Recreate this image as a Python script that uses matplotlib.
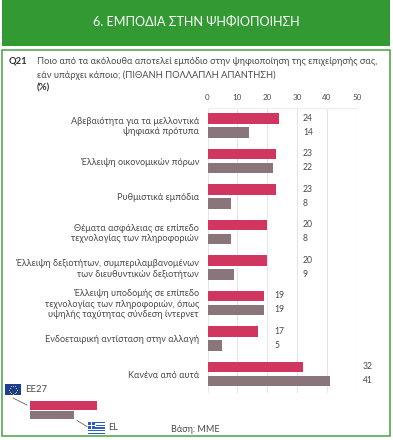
import numpy as np
import matplotlib
matplotlib.use("Agg")
import matplotlib.pyplot as plt
from matplotlib.patches import Rectangle

plt.rcParams['font.family'] = ['Lato', 'DejaVu Sans']

categories = [
    "Αβεβαιότητα για τα μελλοντικά\nψηφιακά πρότυπα",
    "Έλλειψη οικονομικών πόρων",
    "Ρυθμιστικά εμπόδια",
    "Θέματα ασφάλειας σε επίπεδο\nτεχνολογίας των πληροφοριών",
    "Έλλειψη δεξιοτήτων, συμπεριλαμβανομένων\nτων διευθυντικών δεξιοτήτων",
    "Έλλειψη υποδομής σε επίπεδο\nτεχνολογίας των πληροφοριών, όπως\nυψηλής ταχύτητας σύνδεση ίντερνετ",
    "Ενδοεταιρική αντίσταση στην αλλαγή",
    "Κανένα από αυτά",
]
ee27 = [24, 23, 23, 20, 20, 19, 17, 32]
el = [14, 22, 8, 8, 9, 19, 5, 41]
ticks = [0, 10, 20, 30, 40, 50]

W, H = 393, 440
RED = "#d0365f"
GREY = "#8a767a"
TEXT = "#4a4a4a"


def main():
    fig = plt.figure(figsize=(W / 100, H / 100), dpi=100)

    # page layer in pixels, y pointing down
    bg = fig.add_axes([0, 0, 1, 1])
    bg.set_xlim(0, W)
    bg.set_ylim(H, 0)
    bg.axis("off")

    bg.add_patch(Rectangle((2, 0), 388, 46, color="#339933", lw=0))
    bg.text(196, 22, "6. ΕΜΠΟΔΙΑ ΣΤΗΝ ΨΗΦΙΟΠΟΙΗΣΗ", color="white", fontsize=9.1,
            ha="center", va="center")
    bg.add_patch(Rectangle((1.5, 50.5), 388, 385.5, fill=False, ec="#55a855", lw=1.2))

    bg.text(9, 61, "Q21", color="#333333", fontsize=6.8, fontweight="bold", va="center")
    bg.text(37, 61, "Ποιο από τα ακόλουθα αποτελεί εμπόδιο στην ψηφιοποίηση της επιχείρησής σας,",
            color=TEXT, fontsize=6.7, va="center")
    bg.text(37, 75, "εάν υπάρχει κάποιο; (ΠΙΘΑΝΗ ΠΟΛΛΑΠΛΗ ΑΠΑΝΤΗΣΗ)",
            color=TEXT, fontsize=6.7, va="center")
    bg.text(37, 88, "(%)", color="#333333", fontsize=7, fontweight="bold", va="center")

    # bars
    x0, x1, top, bottom = 207.5, 356.7, 108, 393
    ax = fig.add_axes([x0 / W, 1 - bottom / H, (x1 - x0) / W, (bottom - top) / H])
    ax.patch.set_alpha(0)
    pos = np.arange(len(categories))
    ax.barh(pos - 0.197, ee27, height=0.296, color=RED, zorder=3)
    ax.barh(pos + 0.197, el, height=0.296, color=GREY, zorder=3)
    ax.set_xlim(0, 50)
    ax.set_ylim(7.54, -0.487)
    ax.set_xticks(ticks)
    ax.xaxis.tick_top()
    ax.tick_params(axis="x", length=0, pad=5, labelsize=5.8, labelcolor=TEXT)
    ax.set_yticks([])
    ax.grid(axis="x", color="#e6e6e6", lw=0.8, zorder=0)
    for s in ax.spines.values():
        s.set_visible(False)
    ax.spines["top"].set_visible(True)
    ax.spines["top"].set_color("#eeeeee")

    # category labels
    for i, cat in enumerate(categories):
        ax.annotate(cat, (0, i), xytext=(-8.5, -1.5), textcoords="offset pixels",
                    ha="right", va="center", fontsize=6.6, color=TEXT, linespacing=1.2,
                    annotation_clip=False)

    # value labels sit in a column per group
    columns = [32, 32, 32, 32, 32, 22.5, 22.5, 52]
    for i, col in enumerate(columns):
        ax.text(col, i - 0.2, str(ee27[i]), fontsize=6.2, color=TEXT, va="center")
        ax.text(col, i + 0.2, str(el[i]), fontsize=6.2, color=TEXT, va="center", clip_on=False)

    # legend
    bg.add_patch(Rectangle((30, 401), 66.5, 9.5, color=RED, lw=0))
    bg.add_patch(Rectangle((30, 411.5), 44, 8, color=GREY, lw=0))
    bg.plot([13, 27], [398, 405], color="#666666", lw=0.6)
    bg.plot([77, 87], [420.5, 426.5], color="#666666", lw=0.6)

    # EU flag
    bg.add_patch(Rectangle((5, 384), 16, 11.5, color="#1c3f94", lw=0))
    angles = np.linspace(0, 2 * np.pi, 12, endpoint=False)
    bg.scatter(13 + 4 * np.cos(angles), 389.7 + 4 * np.sin(angles), s=0.5, color="#e8c33a", lw=0)
    bg.text(25, 390, "EE27", color=TEXT, fontsize=6.8, va="center")

    # Greek flag
    for k in range(9):
        c = "#2a5fc0" if k % 2 == 0 else "white"
        bg.add_patch(Rectangle((88, 422 + k * 12 / 9), 17, 12 / 9, color=c, lw=0))
    bg.add_patch(Rectangle((88, 422), 6.5, 6.5, color="#2a5fc0", lw=0))
    bg.plot([91.2, 91.2], [422, 428.5], color="white", lw=0.7)
    bg.plot([88, 94.5], [425.2, 425.2], color="white", lw=0.7)
    bg.text(108, 428, "EL", color=TEXT, fontsize=6.5, va="center")

    bg.text(171, 430, "Βάση: ΜΜΕ", color=TEXT, fontsize=6.5, va="center")

    fig.savefig("out.png", dpi=100)


if __name__ == "__main__":
    main()
